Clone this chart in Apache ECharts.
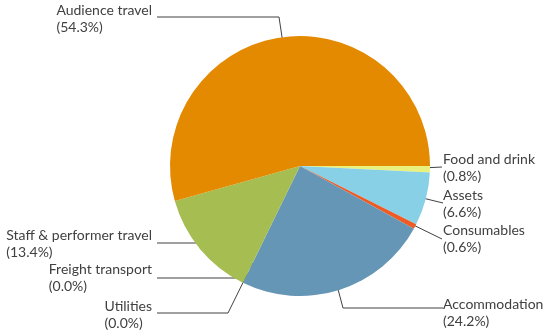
<!DOCTYPE html>
<html>
<head>
<meta charset="utf-8">
<script src="https://cdn.jsdelivr.net/npm/echarts@6/dist/echarts.min.js"></script>
<style>
  html, body { margin: 0; padding: 0; background: #fff; }
  #chart { width: 550px; height: 336px; }
</style>
</head>
<body>
<div id="chart"></div>
<script>
// slices, clockwise from 3 o'clock
const categories = ['Food and drink', 'Assets', 'Consumables', 'Accommodation',
  'Utilities', 'Freight transport', 'Staff & performer travel', 'Audience travel'];
const shares = [0.8, 6.6, 0.6, 24.2, 0.0, 0.0, 13.4, 54.3];
const colors = ['#E9F07E', '#87D0E6', '#EE5B25', '#6696B6', '#9E9E9E', '#8C8C8C', '#A5BD51', '#E48A00'];

const center = [300, 166];
const radius = 130;

// where each label sits and how its leader runs (x/y = text anchor, pts = bend + end)
const labelPos = [
  { side: 'right', x: 443, y: 151, inner: 0.83, pts: [[442, 167]] },
  { side: 'right', x: 443, y: 187, inner: 0.83, pts: [[443, 203]] },
  { side: 'right', x: 443, y: 222, inner: 0.84, pts: [[442, 239]] },
  { side: 'right', x: 443, y: 296, inner: 0.83, pts: [[343, 308], [443, 308]] },
  { side: 'left', x: 152, y: 298, inner: 0.92, pts: [[228, 313], [157, 313]] },
  { side: 'left', x: 152, y: 261, inner: 0.83, pts: [[243, 278], [157, 278]] },
  { side: 'left', x: 152, y: 227, inner: 0.84, pts: [[205, 243], [157, 243]] },
  { side: 'left', x: 152, y: 2, inner: 0.85, pts: [[279, 17], [157, 17]] }
];

const total = shares.reduce((a, b) => a + b, 0);
const midAngles = [];
let acc = 0;
shares.forEach(v => {
  midAngles.push((acc + v / 2) / total * Math.PI * 2);
  acc += v;
});

const chart = echarts.init(document.getElementById('chart'));

chart.setOption({
  animation: false,
  color: colors,
  series: [{
    type: 'pie',
    center: center,
    radius: radius,
    startAngle: 0,
    clockwise: true,
    avoidLabelOverlap: false,
    emphasis: { disabled: true },
    itemStyle: { borderWidth: 0 },
    label: {
      show: true,
      formatter: p => '{t|' + p.name + '}\n{t|(' + p.value.toFixed(1) + '%)}',
      rich: {
        t: { fontFamily: 'Lato', fontSize: 14, color: '#404040', lineHeight: 17, align: 'left' }
      }
    },
    labelLine: {
      show: true,
      lineStyle: { color: '#404040', width: 1 }
    },
    labelLayout: function (params) {
      const p = labelPos[params.dataIndex];
      const a = midAngles[params.dataIndex];
      const r = radius * p.inner;
      const start = [center[0] + r * Math.cos(a), center[1] + r * Math.sin(a)];
      return {
        x: p.x,
        y: p.y,
        align: p.side === 'right' ? 'left' : 'right',
        verticalAlign: 'top',
        labelLinePoints: [start].concat(p.pts)
      };
    },
    data: categories.map((c, i) => ({ name: c, value: shares[i] }))
  }]
});
</script>
</body>
</html>
